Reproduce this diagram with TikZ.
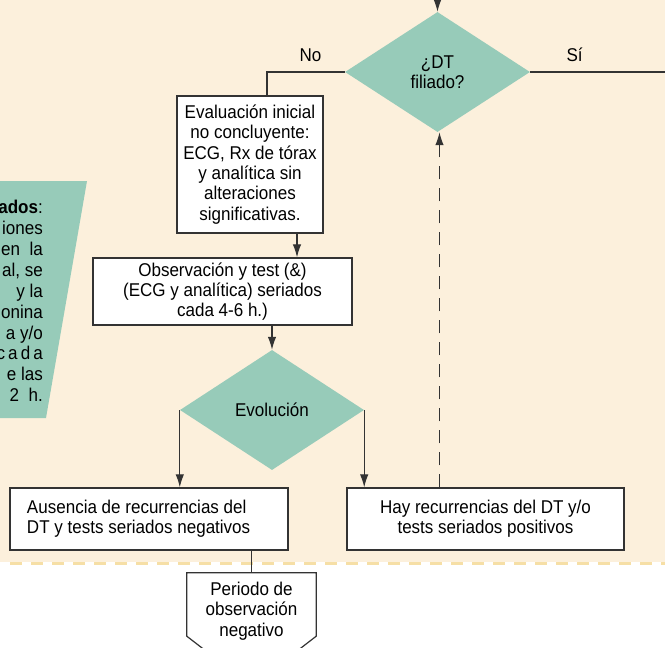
\documentclass[tikz,border=0pt]{standalone}
\usepackage{fontspec}
\setmainfont{Liberation Sans}[FakeStretch=0.92]
\usepackage{xcolor}
\usepackage{tikz}
\usetikzlibrary{shapes.geometric,arrows.meta,calc}
\definecolor{fondo}{HTML}{FCF0DC}
\definecolor{borde}{HTML}{F6DFA6}
\definecolor{verde}{HTML}{97CBB9}
\definecolor{linea}{HTML}{333333}

\begin{document}
\begin{tikzpicture}[x=1pt,y=-1pt,
  font=\fontsize{18.5}{20.3}\selectfont,
  caja/.style={draw=linea, line width=1.3pt, fill=white, inner sep=0, align=center},
  decision/.style={diamond, fill=verde, inner sep=0, align=center},
  flecha/.style={draw=linea, line width=1.2pt, -{Latex[length=13pt,width=8.5pt]}},
  linea/.style={draw=linea, line width=1.2pt}]
\useasboundingbox (0,0) rectangle (665,648);
\clip (0,0) rectangle (665,648);
% fondo
\fill[fondo] (0,0) rectangle (665,562);
\draw[borde, line width=3pt, dash pattern=on 12pt off 9pt] (10,563) -- (665,563);
\fill[verde] (0,181) -- (87,181) -- (46,418) -- (0,418) -- cycle;
\node[anchor=north east, align=flush right, inner sep=0, font=\fontsize{18.5}{20.9}\selectfont] (nota) at (43,200)
  {\textbf{ados}:\\iones\\en\ \ la\\al, se\\y la\\onina\\a y/o\\c\,a\,d\,a\\e las\\2\ \ h.};

% nodos
\node[decision, minimum width=185, minimum height=120] (dt) at (437.5,72) {¿DT\\filiado?};
\node[caja, minimum width=146, minimum height=137] (eval) at (250,164.5)
  {Evaluación inicial\\no concluyente:\\ECG, Rx de tórax\\y analítica sin\\alteraciones\\significativas.};
\node[caja, minimum width=259, minimum height=67] (obs) at (222.5,291.5)
  {Observación y test (\&)\\(ECG y analítica) seriados\\cada 4-6 h.)};
\node[decision, minimum width=184, minimum height=120] (evo) at (272,410) {Evolución};
\node[caja, minimum width=278, minimum height=62, align=flush left, text width=244] (aus) at (149,519)
  {Ausencia de recurrencias del\\DT y tests seriados negativos};
\node[caja, minimum width=277, minimum height=62] (hay) at (485.5,519)
  {Hay recurrencias del DT y/o\\tests seriados positivos};
\node[inner sep=0, minimum width=129, minimum height=76, align=center] (per) at (251.5,611) {};
\draw[linea, fill=white] (per.north west) -- ([yshift=13pt]per.south west) -- ($(per.south)+(0,37)$)
  -- ([yshift=13pt]per.south east) -- (per.north east) -- cycle;
\node[inner sep=0, align=center] at (per) {Periodo de\\observación\\negativo};

\coordinate (entra) at (437.5,0);
\coordinate (sale) at (665,72);

% conexiones
\draw[flecha] (entra) -- (dt.north);
\draw[linea] (dt.east) -- (sale) node[pos=0.33, above=6pt, text=black] {Sí};
\draw[linea] (dt.west) -| ([xshift=17pt]eval.north) node[pos=0.22, above=6pt, text=black] {No};
\draw[flecha] ([xshift=47pt]eval.south) -- ([xshift=47pt]eval.south |- obs.north);
\draw[flecha] (obs.south -| evo.north) -- (evo.north);
\draw[flecha] (evo.west) -- (evo.west |- aus.north);
\draw[flecha] (evo.east) -- (evo.east |- hay.north);
\draw[flecha, dash pattern=on 13pt off 9pt] ([xshift=2pt]dt.south |- hay.north) -- ([xshift=2pt]dt.south);
\draw[linea] (per.north |- aus.south) -- (per.north);
\end{tikzpicture}
\end{document}
